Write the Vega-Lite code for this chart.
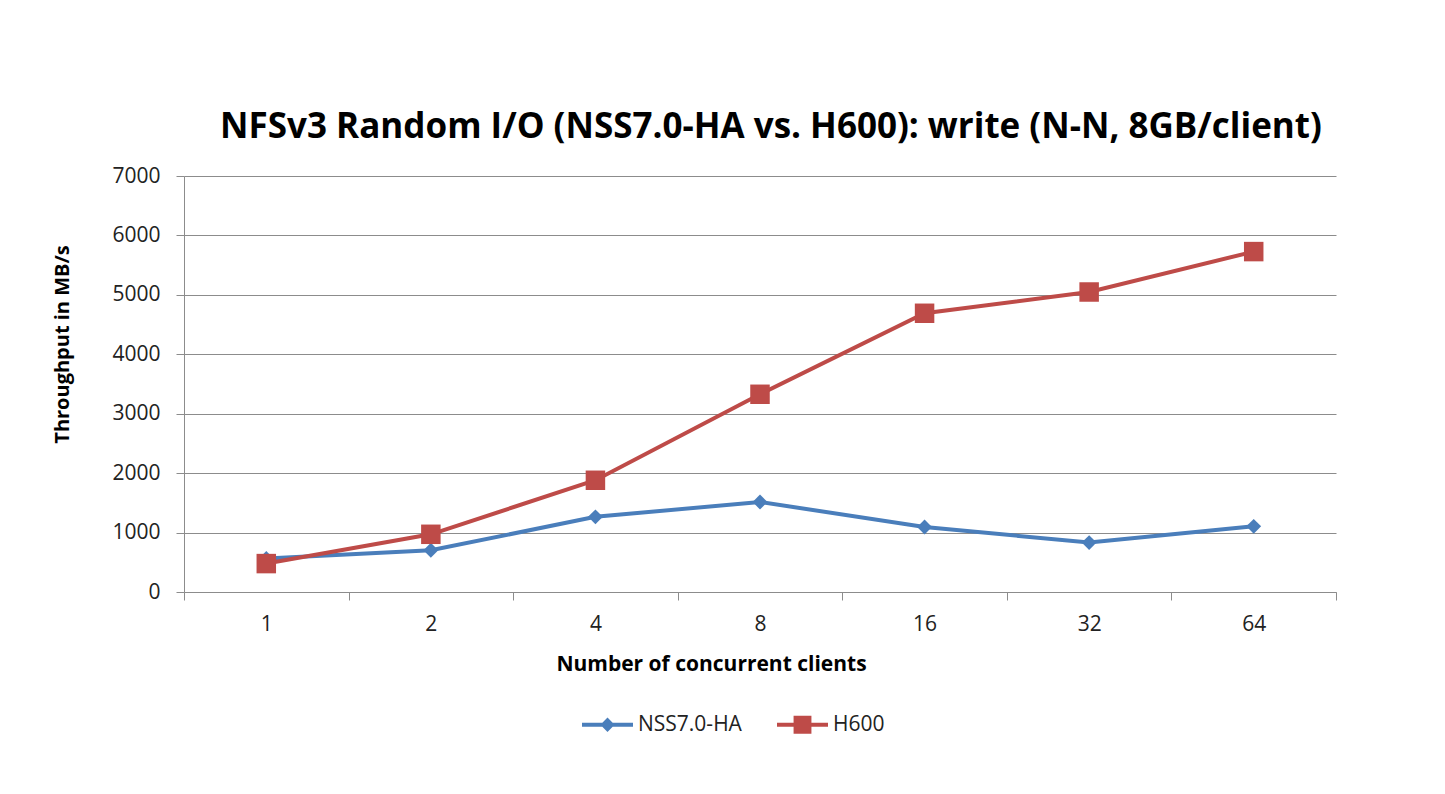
{
  "$schema": "https://vega.github.io/schema/vega-lite/v6.json",
  "width": 1152,
  "height": 416,
  "autosize": {"type": "none"},
  "padding": {"left": 184, "top": 176, "right": 109, "bottom": 202},
  "background": "white",
  "title": {
    "text": "NFSv3 Random I/O (NSS7.0-HA vs. H600): write (N-N, 8GB/client)",
    "font": "Open Sans",
    "fontSize": 35,
    "fontWeight": "bold",
    "color": "#000000",
    "anchor": "middle",
    "frame": "group",
    "dx": 11,
    "offset": 20
  },
  "config": {
    "view": {"stroke": null},
    "font": "Open Sans"
  },
  "data": {
    "values": [
      {"clients": 1, "series": "NSS7.0-HA", "throughput": 565},
      {"clients": 2, "series": "NSS7.0-HA", "throughput": 702},
      {"clients": 4, "series": "NSS7.0-HA", "throughput": 1265},
      {"clients": 8, "series": "NSS7.0-HA", "throughput": 1515},
      {"clients": 16, "series": "NSS7.0-HA", "throughput": 1094},
      {"clients": 32, "series": "NSS7.0-HA", "throughput": 831},
      {"clients": 64, "series": "NSS7.0-HA", "throughput": 1105},
      {"clients": 1, "series": "H600", "throughput": 478},
      {"clients": 2, "series": "H600", "throughput": 971},
      {"clients": 4, "series": "H600", "throughput": 1880},
      {"clients": 8, "series": "H600", "throughput": 3327},
      {"clients": 16, "series": "H600", "throughput": 4690},
      {"clients": 32, "series": "H600", "throughput": 5048},
      {"clients": 64, "series": "H600", "throughput": 5728}
    ]
  },
  "encoding": {
    "x": {
      "field": "clients",
      "type": "ordinal",
      "scale": {"type": "band", "paddingInner": 0, "paddingOuter": 0},
      "axis": {
        "title": "Number of concurrent clients",
        "titleFont": "Open Sans",
        "titleFontSize": 21,
        "titleFontWeight": "bold",
        "titleColor": "#000000",
        "titleX": 527,
        "titleY": 72,
        "titleBaseline": "middle",
        "titleAlign": "center",
        "labelAngle": 0,
        "labelFont": "Open Sans",
        "labelFontSize": 21,
        "labelColor": "#222222",
        "labelPadding": 13,
        "tickBand": "extent",
        "tickSize": 8,
        "tickColor": "#8c8c8c",
        "domainColor": "#8c8c8c",
        "grid": false
      }
    },
    "y": {
      "field": "throughput",
      "type": "quantitative",
      "scale": {"domain": [0, 7000], "nice": false},
      "axis": {
        "title": "Throughput in MB/s",
        "titleFont": "Open Sans",
        "titleFontSize": 20,
        "titleFontWeight": "bold",
        "titleColor": "#000000",
        "titleX": -122,
        "titleY": 168,
        "titleAngle": -90,
        "titleBaseline": "middle",
        "titleAlign": "center",
        "values": [0, 1000, 2000, 3000, 4000, 5000, 6000, 7000],
        "format": "d",
        "labelFont": "Open Sans",
        "labelFontSize": 21,
        "labelColor": "#222222",
        "labelPadding": 16,
        "tickSize": 8,
        "tickColor": "#8c8c8c",
        "domainColor": "#8c8c8c",
        "gridColor": "#8c8c8c",
        "gridWidth": 1
      }
    },
    "color": {
      "field": "series",
      "type": "nominal",
      "scale": {"domain": ["NSS7.0-HA", "H600"], "range": ["#4a7ebb", "#be4b48"]},
      "legend": {
        "title": null,
        "orient": "none",
        "direction": "horizontal",
        "legendX": 398,
        "legendY": 523,
        "labelFont": "Open Sans",
        "labelFontSize": 21,
        "labelColor": "#222222",
        "labelOffset": 5,
        "columnPadding": 35,
        "symbolSize": 2601,
        "symbolStrokeWidth": 0,
        "symbolOpacity": 1,
        "encode": {
          "symbols": {
            "update": {
              "shape": {"signal": "datum.value === 'H600' ? 'M-1,-0.08H1V0.08H-1Z M-0.35,-0.35H0.35V0.35H-0.35Z' : 'M-1,-0.08H1V0.08H-1Z M0,-0.28L0.28,0L0,0.28L-0.28,0Z'"},
              "fill": {"signal": "datum.value === 'H600' ? '#be4b48' : '#4a7ebb'"},
              "fillOpacity": {"value": 1},
              "strokeWidth": {"value": 0}
            }
          }
        }
      }
    }
  },
  "layer": [
    {
      "mark": {"type": "line", "strokeWidth": 4},
      "encoding": {"detail": {"field": "series"}}
    },
    {
      "transform": [{"filter": "datum.series === 'NSS7.0-HA'"}],
      "mark": {"type": "point", "filled": true, "opacity": 1, "shape": "diamond", "size": 220}
    },
    {
      "transform": [{"filter": "datum.series === 'H600'"}],
      "mark": {"type": "point", "filled": true, "opacity": 1, "shape": "square", "size": 380}
    }
  ]
}
